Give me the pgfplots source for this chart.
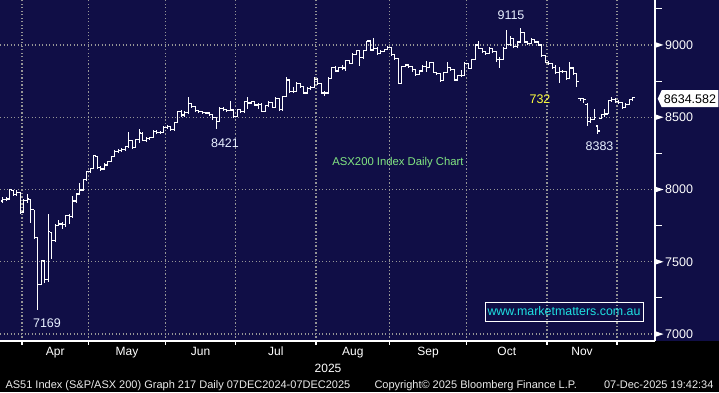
\documentclass[border=0pt]{standalone}
\usepackage{fontspec}
\setmainfont{Liberation Sans}
\usepackage{pgfplots}
\usepackage{pgfplotstable}
\pgfplotsset{compat=1.18}
\definecolor{bbnavy}{RGB}{16,14,70}
\definecolor{gridgray}{RGB}{150,150,150}
\definecolor{annot}{RGB}{232,240,255}
\definecolor{yel}{RGB}{255,255,60}
\definecolor{grn}{RGB}{130,230,130}
\definecolor{cyn}{RGB}{30,225,225}
\definecolor{foot}{RGB}{235,235,235}
\newcommand\fs[1]{\fontsize{#1bp}{#1bp}\selectfont}
\pgfdeclareplotmark{otick}{\pgfpathmoveto{\pgfpoint{-1.8bp}{0pt}}\pgfpathlineto{\pgfpoint{0pt}{0pt}}\pgfusepathqstroke}
\pgfdeclareplotmark{ctick}{\pgfpathmoveto{\pgfpoint{0pt}{0pt}}\pgfpathlineto{\pgfpoint{1.8bp}{0pt}}\pgfusepathqstroke}
\pgfplotstableread{
i o h l c
0 7920 7948 7905 7930
1 7930 7950 7918 7935
2 7935 8006 7930 7999
3 7995 8000 7955 7968
4 7968 7995 7958 7982
5 7980 7985 7830 7843
6 7845 7935 7838 7925
7 7925 7972 7910 7934
8 7930 7935 7765 7859
9 7859 7860 7660 7667
10 7667 7670 7169 7343
11 7343 7515 7340 7510
12 7505 7512 7355 7375
13 7375 7830 7360 7709
14 7700 7705 7520 7646
15 7646 7760 7640 7749
16 7749 7790 7745 7762
17 7762 7775 7725 7758
18 7758 7825 7740 7819
19 7819 7830 7760 7816
20 7816 7955 7800 7920
21 7920 7975 7910 7969
22 7969 8048 7960 7997
23 7997 8075 7990 8069
24 8069 8130 8060 8126
25 8126 8150 8115 8145
26 8145 8240 8140 8234
27 8230 8234 8148 8151
28 8151 8160 8130 8142
29 8142 8180 8135 8170
30 8170 8200 8160 8195
31 8195 8235 8190 8230
32 8230 8275 8225 8265
33 8265 8280 8255 8270
34 8270 8285 8260 8275
35 8275 8300 8265 8295
36 8295 8395 8290 8340
37 8340 8345 8285 8290
38 8290 8350 8285 8345
39 8345 8418 8322 8391
40 8390 8395 8335 8340
41 8340 8360 8330 8355
42 8355 8365 8345 8360
43 8360 8410 8355 8400
44 8400 8410 8385 8396
45 8396 8405 8385 8395
46 8395 8440 8390 8430
47 8430 8445 8420 8436
48 8436 8440 8405 8413
49 8413 8470 8405 8464
50 8464 8545 8460 8540
51 8540 8548 8505 8515
52 8515 8540 8505 8530
53 8530 8640 8525 8593
54 8593 8600 8565 8572
55 8572 8578 8540 8545
56 8545 8552 8530 8540
57 8540 8545 8522 8531
58 8531 8538 8520 8529
59 8529 8533 8510 8517
60 8517 8520 8480 8500
61 8500 8505 8421 8470
62 8470 8570 8465 8563
63 8563 8570 8545 8551
64 8551 8560 8538 8545
65 8545 8609 8540 8550
66 8550 8555 8500 8505
67 8505 8560 8500 8551
68 8551 8560 8530 8537
69 8537 8615 8530 8607
70 8607 8640 8560 8598
71 8598 8615 8590 8609
72 8609 8612 8575 8585
73 8585 8600 8560 8590
74 8590 8595 8535 8540
75 8540 8585 8535 8579
76 8579 8610 8570 8600
77 8600 8605 8565 8570
78 8570 8640 8565 8632
79 8632 8636 8545 8551
80 8551 8650 8545 8643
81 8643 8777 8640 8758
82 8758 8762 8670 8678
83 8678 8710 8670 8678
84 8678 8745 8672 8736
85 8736 8740 8700 8710
86 8710 8715 8660 8667
87 8667 8706 8660 8701
88 8701 8715 8690 8708
89 8708 8780 8700 8763
90 8763 8768 8725 8736
91 8736 8740 8660 8667
92 8667 8680 8650 8667
93 8667 8778 8660 8770
94 8770 8850 8765 8846
95 8846 8852 8812 8820
96 8820 8850 8815 8845
97 8845 8860 8825 8840
98 8840 8895 8818 8890
99 8890 8895 8865 8873
100 8873 8942 8868 8936
101 8936 8966 8930 8960
102 8960 8965 8857 8913
103 8913 8966 8905 8960
104 8960 9030 8955 9028
105 9028 9032 8960 8965
106 8965 9050 8960 8977
107 8977 8985 8930 8943
108 8943 8962 8938 8955
109 8955 8975 8950 8970
110 8970 8990 8962 8982
111 8982 8985 8925 8936
112 8936 8940 8895 8905
113 8905 8910 8730 8736
114 8736 8855 8730 8850
115 8850 8870 8845 8862
116 8862 8866 8840 8850
117 8850 8855 8810 8830
118 8830 8835 8788 8793
119 8793 8830 8790 8820
120 8820 8858 8815 8850
121 8850 8890 8810 8845
122 8845 8885 8840 8880
123 8880 8884 8805 8810
124 8810 8815 8790 8800
125 8800 8805 8745 8752
126 8752 8815 8748 8810
127 8810 8880 8805 8845
128 8845 8850 8822 8830
129 8830 8836 8752 8758
130 8758 8795 8752 8790
131 8790 8828 8780 8786
132 8786 8880 8793 8873
133 8873 8878 8832 8839
134 8839 8905 8835 8901
135 8901 9003 8896 9000
136 9000 9025 8970 8977
137 8977 8980 8948 8954
138 8954 8960 8930 8940
139 8940 8985 8935 8977
140 8977 8982 8948 8954
141 8954 8958 8880 8901
142 8901 8915 8839 8901
143 8901 8985 8895 8977
144 8977 9104 8975 9003
145 9003 9060 8995 9046
146 9046 9050 8980 8988
147 8988 9028 8982 9020
148 9020 9115 9015 9085
149 9085 9090 9015 9020
150 9020 9025 9000 9010
151 9010 9045 9005 9037
152 9037 9042 9012 9020
153 9020 9025 8990 9000
154 9000 9003 8920 8928
155 8928 8932 8872 8880
156 8880 8888 8862 8870
157 8870 8874 8835 8845
158 8845 8860 8800 8808
159 8808 8850 8736 8816
160 8816 8830 8805 8816
161 8816 8820 8760 8770
162 8770 8885 8765 8840
163 8840 8845 8795 8800
164 8800 8805 8708 8747
165 8630 8635 8615 8627
166 8627 8635 8600 8620
167 8590 8595 8441 8471
168 8471 8500 8460 8483
169 8483 8555 8478 8500
170 8440 8441 8383 8405
171 8490 8522 8486 8517
172 8517 8560 8500 8522
173 8522 8620 8520 8614
174 8614 8640 8605 8620
175 8620 8630 8600 8610
176 8610 8620 8590 8600
177 8600 8605 8560 8570
178 8570 8600 8565 8590
179 8590 8625 8585 8620
180 8620 8640 8612 8634.582
}\ohlc
\begin{document}
\begin{tikzpicture}[x=1bp,y=1bp]
\path[use as bounding box, fill=black] (0,0) rectangle (719,392);
\fill[bbnavy] (0,51) rectangle (719,392);
\begin{axis}[
  at={(0bp,51bp)}, anchor=south west,
  scale only axis, width=655bp, height=341bp,
  xmin=-0.79, xmax=186.36, ymin=6952, ymax=9311,
  axis x line*=bottom, axis y line*=right,
  axis line style={white, line width=1.3bp, -},
  tick align=outside,
  xtick={15,35.5,56.5,78,100,121.5,144,165.5},
  xticklabels={Apr,May,Jun,Jul,Aug,Sep,Oct,Nov},
  minor xtick={5.5,24.5,46.5,66.5,89.5,110.5,132.5,155.5,175.5},
  ytick={7000,7500,8000,8500,9000},
  yticklabels={7000,7500,8000,8500,9000},
  major tick length=0pt,
  xminorgrids, ymajorgrids,
  major grid style={gridgray, line width=1.2bp, dash pattern=on 1.3bp off 2.2bp},
  minor grid style={gridgray, line width=1.2bp, dash pattern=on 1.3bp off 2.2bp},
  minor tick length=0pt,
  xticklabel style={anchor=base, yshift=-14bp, font=\fs{12}, text=white},
  yticklabel style={anchor=west, inner sep=0pt, xshift=10bp, font=\fs{12.5}, text=white},
]
\addplot[draw=none, mark=none, forget plot,
  error bars/.cd, y dir=both, y explicit, error mark=none,
  error bar style={draw=white, line width=1.2bp}]
  table[x=i, y=c, y error plus expr={\thisrow{h}-\thisrow{c}}, y error minus expr={\thisrow{c}-\thisrow{l}}] {\ohlc};
\addplot[only marks, mark=otick, mark options={draw=white, line width=1.2bp}] table[x=i, y=o] {\ohlc};
\addplot[only marks, mark=ctick, mark options={draw=white, line width=1.2bp}] table[x=i, y=c] {\ohlc};
\end{axis}
% right-axis tick pointers (major) and short ticks (minor)
\foreach \yy in {57.94,130.21,202.49,274.77,347.05}
  \fill[white] (656,\yy+2.6) -- (663.5,\yy) -- (656,\yy-2.6) -- cycle;
\foreach \yy in {94.08,166.35,238.63,310.91,383.18}
  \draw[white, line width=1.1bp] (655,\yy) -- (662,\yy);
% bottom-axis month boundary ticks
\foreach \xx in {22,88.5,165.5,235.5,316,389.5,466.5,547,617}
  \draw[white, line width=1.1bp] (\xx,51) -- (\xx,47);
% annotations
\node[text=annot, font=\fs{12.5}] at (511,377) {9115};
\node[text=yel, font=\fs{12.5}] at (540,293) {732};
\node[text=annot, font=\fs{12.5}] at (599.5,246) {8383};
\node[text=annot, font=\fs{12.5}] at (225,249) {8421};
\node[text=annot, font=\fs{12.5}] at (47,69) {7169};
\node[text=grn, font=\fs{11.3}] at (398,229) {ASX200 Index Daily Chart};
\node[text=cyn, draw=white, line width=1bp, inner sep=0pt, minimum width=158bp, minimum height=19bp, font=\fs{12.4}] at (564,80.5) {www.marketmatters.com.au};
% last price tag
\fill[white] (657.7,293.3) -- (661.7,301.8) -- (718.3,301.8) -- (718.3,284.8) -- (661.7,284.8) -- cycle;
\node[text=black, font=\fs{12.5}] at (690,293.3) {8634.582};
% x axis year and footer
\node[text=white, font=\fs{12}, anchor=base] at (328,19.3) {2025};
\node[text=foot, font=\fs{11}, anchor=base west] at (2,4) {AS51 Index (S\&P/ASX 200) Graph 217 Daily 07DEC2024-07DEC2025};
\node[text=foot, font=\fs{11}, anchor=base west] at (371,4) {Copyright© 2025 Bloomberg Finance L.P.};
\node[text=foot, font=\fs{11}, anchor=base east] at (717,4) {07-Dec-2025 19:42:34};
\end{tikzpicture}
\end{document}
